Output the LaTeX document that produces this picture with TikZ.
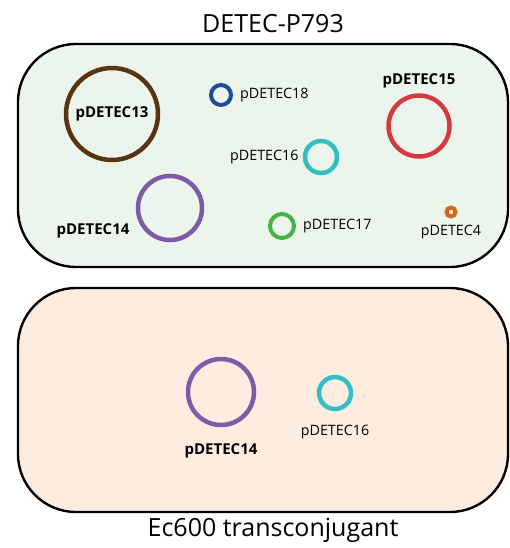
\documentclass[tikz,border=0pt]{standalone}
\usepackage{fontspec}
\setmainfont{Open Sans}
\usetikzlibrary{positioning}
\definecolor{hostbg}{HTML}{ECF5EC}
\definecolor{transbg}{HTML}{FDEDE0}
\definecolor{cbrown}{HTML}{5A3312}
\definecolor{cblue}{HTML}{1F4A98}
\definecolor{cred}{HTML}{D43A40}
\definecolor{cteal}{HTML}{33BFC2}
\definecolor{cpurple}{HTML}{7D5BA6}
\definecolor{cgreen}{HTML}{44B244}
\definecolor{corange}{HTML}{D2691F}
\begin{document}
\begin{tikzpicture}[x=1pt,y=-1pt,node distance=4pt,
    cell/.style={draw=black,line width=2.4pt,rounded corners=58pt},
    ring/.style={circle,draw,inner sep=0pt,line width=4.5pt},
    lab/.style={font=\fontsize{14.3}{16}\selectfont,inner sep=1pt},
    blab/.style={font=\fontsize{15}{17}\selectfont\bfseries,inner sep=1pt}]
  \useasboundingbox (0,0) rectangle (509,548);
  % host cell
  \draw[cell,fill=hostbg] (18,44) rectangle (508,267);
  \node[font=\fontsize{25}{28}\selectfont] (host) at (273,24) {DETEC-P793};
  \node[ring,draw=cbrown,minimum size=92pt] (p13) at (112,114) {};
  \node[blab] at (p13) {pDETEC13};
  \node[ring,draw=cblue,minimum size=20pt,line width=4pt] (p18) at (221,95) {};
  \node[lab,right=6pt of p18] {pDETEC18};
  \node[ring,draw=cred,minimum size=61pt] (p15) at (419,126) {};
  \node[blab,above=4pt of p15] {pDETEC15};
  \node[ring,draw=cteal,minimum size=32pt] (p16) at (321,157) {};
  \node[lab,left=3pt of p16] {pDETEC16};
  \node[ring,draw=cpurple,minimum size=64pt] (p14) at (170,208) {};
  \node[blab] at (93,231) {pDETEC14};
  \node[ring,draw=cgreen,minimum size=24pt,line width=4pt] (p17) at (282,226) {};
  \node[lab,right=6pt of p17] {pDETEC17};
  \node[ring,draw=corange,minimum size=9pt,line width=4pt] (p4) at (451,212) {};
  \node[lab,below=5pt of p4] {pDETEC4};
  % transconjugant
  \draw[cell,fill=transbg] (18,288) rectangle (508,512);
  \node[font=\fontsize{25}{28}\selectfont] (trans) at (273,530) {Ec600 transconjugant};
  \node[ring,draw=cpurple,minimum size=66pt] (t14) at (221,392) {};
  \node[blab,below=15pt of t14] {pDETEC14};
  \node[ring,draw=cteal,minimum size=32pt] (t16) at (335,393) {};
  \node[lab,below=13pt of t16] {pDETEC16};
\end{tikzpicture}
\end{document}
